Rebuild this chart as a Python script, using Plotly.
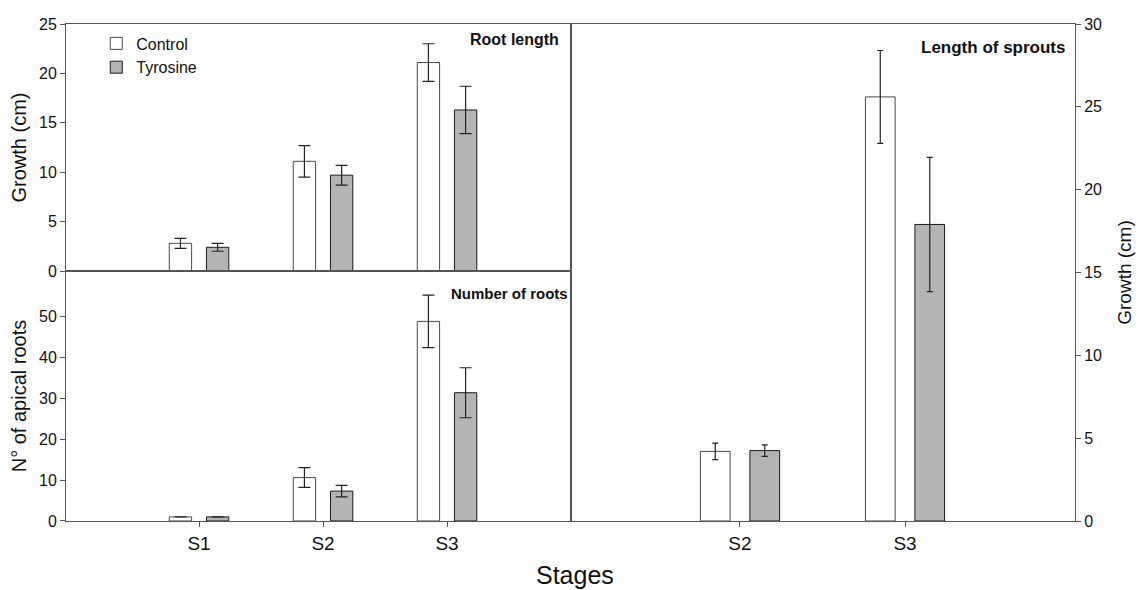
import plotly.graph_objects as go

# ---------------- data ----------------
stages_roots = ["S1", "S2", "S3"]
stages_sprouts = ["S2", "S3"]

root_len_control = [2.8, 11.1, 21.1]
root_len_control_err = [0.5, 1.6, 1.9]
root_len_tyrosine = [2.4, 9.7, 16.3]
root_len_tyrosine_err = [0.4, 1.0, 2.4]

n_roots_control = [1.0, 10.6, 48.7]
n_roots_control_err = [None, 2.4, 6.4]
n_roots_tyrosine = [1.0, 7.3, 31.3]
n_roots_tyrosine_err = [None, 1.4, 6.1]

sprout_control = [4.2, 25.6]
sprout_control_err = [0.5, 2.8]
sprout_tyrosine = [4.25, 17.9]
sprout_tyrosine_err = [0.35, 4.05]

# ---------------- style ----------------
FONT = "Liberation Sans, Arial, sans-serif"
EDGE_C = "#4a4a4a"
EDGE_T = "#1a1a1a"
GRAY = "#b4b4b4"
AXC = "#555555"
TXT = "#111111"

fig = go.Figure()

def add_pair(x, c, ce, t, te, xa, ya, cap, show):
    fig.add_trace(go.Bar(
        x=x, y=c, name="Control", legendgroup="c", showlegend=show,
        marker=dict(color="white", line=dict(color=EDGE_C, width=1)),
        error_y=dict(type="data", array=ce, color="#222222", thickness=1.2, width=cap),
        xaxis=xa, yaxis=ya))
    fig.add_trace(go.Bar(
        x=x, y=t, name="Tyrosine", legendgroup="t", showlegend=show,
        marker=dict(color=GRAY, line=dict(color=EDGE_T, width=1)),
        error_y=dict(type="data", array=te, color="#222222", thickness=1.2, width=cap),
        xaxis=xa, yaxis=ya))

add_pair(stages_roots, root_len_control, root_len_control_err,
         root_len_tyrosine, root_len_tyrosine_err, "x", "y", 6, True)
add_pair(stages_roots, n_roots_control, n_roots_control_err,
         n_roots_tyrosine, n_roots_tyrosine_err, "x2", "y2", 6, False)
add_pair(stages_sprouts, sprout_control, sprout_control_err,
         sprout_tyrosine, sprout_tyrosine_err, "x3", "y3", 3, False)

XD_L = [0, 0.5005]
XD_R = [0.5005, 1]
YD_T = [0.503, 1]
YD_B = [0, 0.503]

tickfont = dict(family=FONT, size=16, color=TXT)
xtickfont = dict(family=FONT, size=19, color=TXT)
axis_common = dict(showline=True, linecolor=AXC, linewidth=1, mirror=True,
                   showgrid=False, zeroline=False, tickfont=tickfont,
                   ticks="outside", ticklen=5, tickcolor=AXC, automargin=False)

# page body has an 8px default margin, so the figure is 8px smaller
fig.update_layout(
    width=1137, height=582,
    margin=dict(l=58, r=70, t=16, b=69, autoexpand=False),
    paper_bgcolor="white", plot_bgcolor="white",
    barmode="group", bargap=0.4, bargroupgap=0.4,
    font=dict(family=FONT, color=TXT),
    showlegend=True,
    legend=dict(x=0.03, y=0.995, xanchor="left", yanchor="top",
                bgcolor="rgba(0,0,0,0)", font=dict(family=FONT, size=16, color=TXT),
                tracegroupgap=0, itemwidth=30),
    xaxis=dict(axis_common, domain=XD_L, anchor="y", type="category",
               range=[-1.073, 3.0], showticklabels=False, ticks=""),
    yaxis=dict(axis_common, domain=YD_T, anchor="x", range=[0, 25], dtick=5,
               title=dict(text="Growth (cm)", font=dict(family=FONT, size=20, color=TXT), standoff=9)),
    xaxis2=dict(axis_common, domain=XD_L, anchor="y2", type="category",
                range=[-1.073, 3.0], tickfont=xtickfont),
    yaxis2=dict(axis_common, domain=YD_B, anchor="x2", range=[0, 61],
                tickvals=[0, 10, 20, 30, 40, 50],
                title=dict(text="N° of apical roots", font=dict(family=FONT, size=20, color=TXT), standoff=9)),
    xaxis3=dict(axis_common, domain=XD_R, anchor="y3", type="category",
                range=[-1.024, 2.03], tickfont=xtickfont),
    yaxis3=dict(axis_common, domain=[0, 1], anchor="x3", side="right", range=[0, 30], dtick=5,
                title=dict(text="Growth (cm)", font=dict(family=FONT, size=19, color=TXT), standoff=16)),
)

fig.add_annotation(text="<b>Root length</b>", xref="paper", yref="paper",
                   x=0.4905, y=0.968, xanchor="right", yanchor="middle", showarrow=False,
                   font=dict(family=FONT, size=16, color=TXT))
fig.add_annotation(text="<b>Number of roots</b>", xref="paper", yref="paper",
                   x=0.4995, y=0.457, xanchor="right", yanchor="middle", showarrow=False,
                   font=dict(family=FONT, size=15, color=TXT))
fig.add_annotation(text="<b>Length of sprouts</b>", xref="paper", yref="paper",
                   x=0.992, y=0.953, xanchor="right", yanchor="middle", showarrow=False,
                   font=dict(family=FONT, size=17, color=TXT))
fig.add_annotation(text="Stages", xref="paper", yref="paper",
                   x=0.504, y=-0.109, xanchor="center", yanchor="middle", showarrow=False,
                   font=dict(family=FONT, size=25, color=TXT))

fig.write_html("out.html")
